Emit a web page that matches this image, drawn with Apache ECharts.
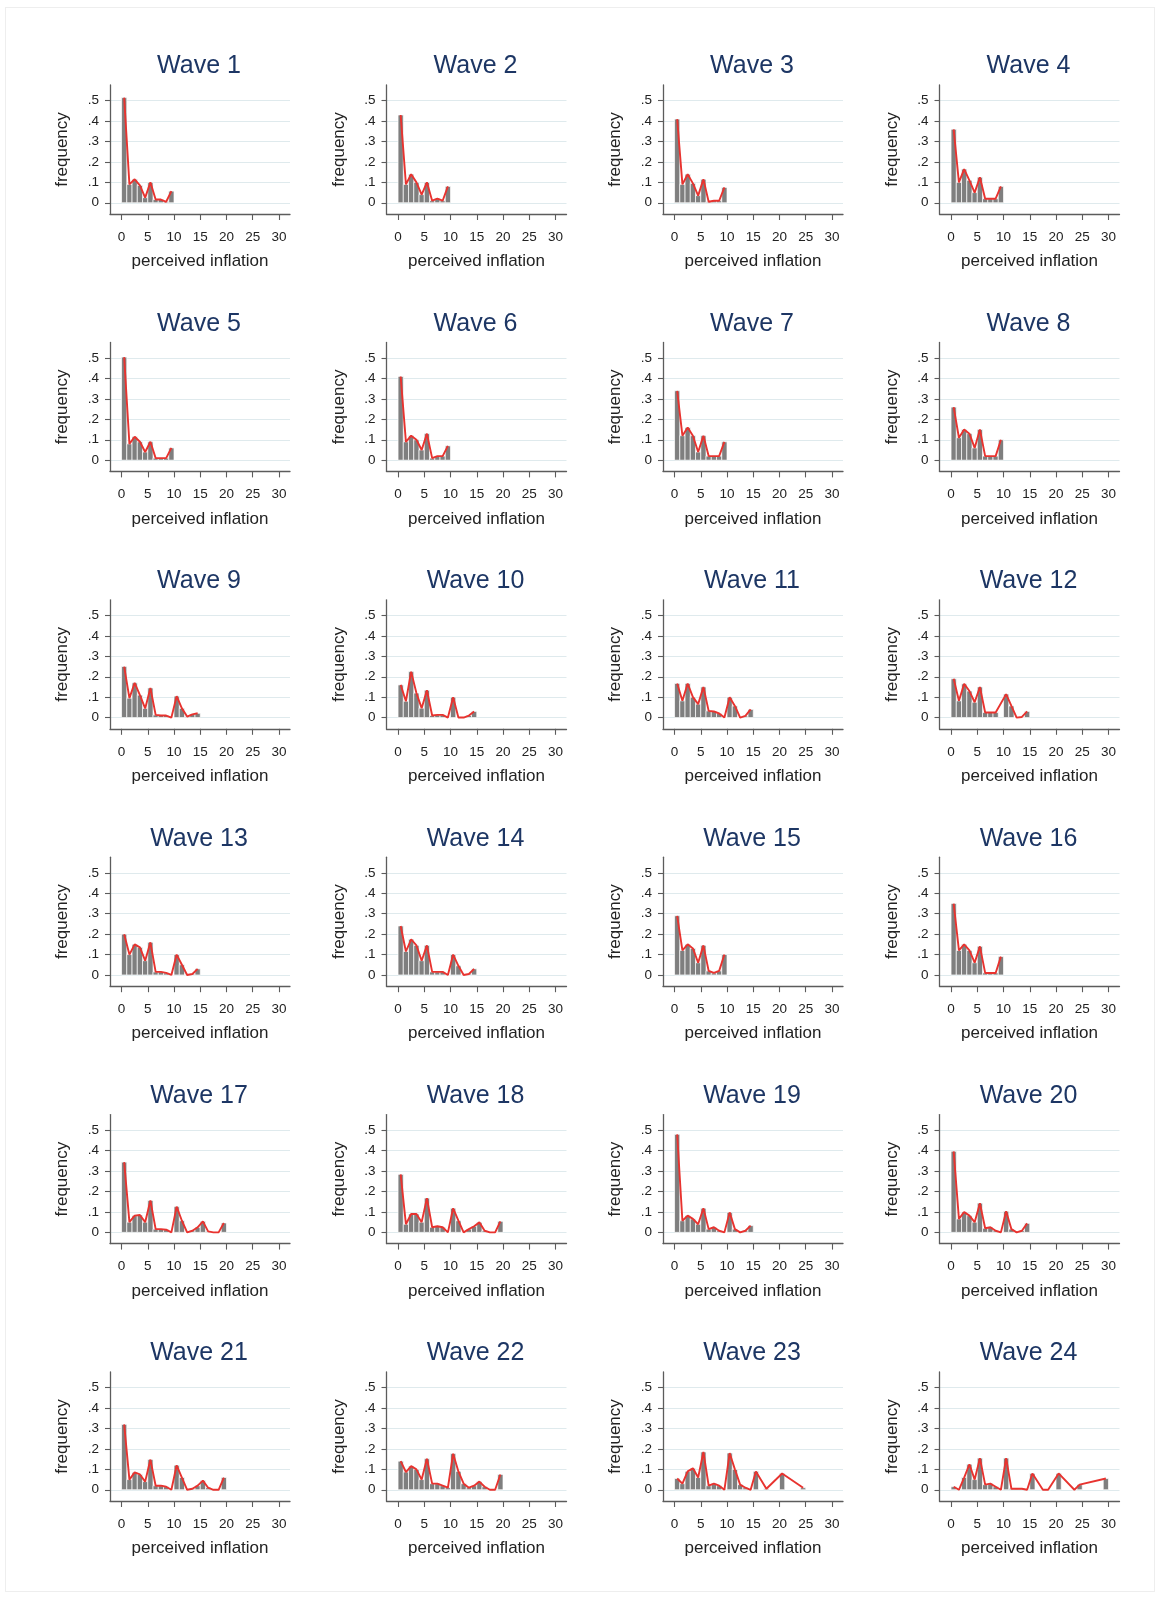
<!DOCTYPE html>
<html><head><meta charset="utf-8">
<script src="https://cdn.jsdelivr.net/npm/echarts@6/dist/echarts.min.js"></script>
<style>
html,body{margin:0;padding:0;background:#fff;}
#frame{position:absolute;left:5px;top:7px;width:1150px;height:1585px;border:1px solid #eeeeee;box-sizing:border-box;}
#chart{position:absolute;left:0;top:0;width:1161px;height:1598px;}
</style></head><body>
<div id="frame"></div><div id="chart"></div>
<script>
// ---- data (bins 0,1,2,...; null = empty bin) ----
const waveNames = ["Wave 1","Wave 2","Wave 3","Wave 4","Wave 5","Wave 6","Wave 7","Wave 8",
  "Wave 9","Wave 10","Wave 11","Wave 12","Wave 13","Wave 14","Wave 15","Wave 16",
  "Wave 17","Wave 18","Wave 19","Wave 20","Wave 21","Wave 22","Wave 23","Wave 24"];
const xTicks = [0,5,10,15,20,25,30];
const yTicks = [0,0.1,0.2,0.3,0.4,0.5];
const xTitle = "perceived inflation";
const yTitle = "frequency";

const w1 = [0.515,0.09,0.115,0.085,0.025,0.10,0.016,0.016,0.005,0.057];
const w2 = [0.43,0.09,0.14,0.10,0.04,0.10,0.01,0.02,0.01,0.08];
const w3 = [0.41,0.09,0.14,0.095,0.035,0.115,0.005,0.01,0.01,0.075];
const w4 = [0.36,0.10,0.165,0.11,0.05,0.125,0.02,0.02,0.02,0.08];
const w5 = [0.505,0.08,0.115,0.09,0.04,0.09,0.01,0.01,0.01,0.06];
const w6 = [0.41,0.09,0.12,0.10,0.05,0.13,0.01,0.02,0.02,0.07];
const w7 = [0.34,0.12,0.16,0.12,0.04,0.12,0.02,0.02,0.02,0.09];
const w8 = [0.26,0.11,0.15,0.13,0.06,0.15,0.02,0.02,0.02,0.10];
const w9 = [0.25,0.095,0.17,0.11,0.045,0.145,0.013,0.01,0.01,0.0,0.105,0.045,0.005,0.016,0.021];
const w10 = [0.16,0.08,0.225,0.12,0.046,0.134,0.01,0.013,0.013,0.0,0.10,0.0,0.0,0.01,0.03];
const w11 = [0.167,0.082,0.167,0.10,0.066,0.15,0.033,0.03,0.02,0.0,0.10,0.057,0.0,0.008,0.04];
const w12 = [0.19,0.082,0.165,0.13,0.075,0.15,0.025,0.025,0.025,null,0.115,0.057,0.0,0.003,0.03];
const w13 = [0.20,0.10,0.15,0.135,0.07,0.16,0.015,0.015,0.01,0.0,0.10,0.05,0.0,0.005,0.03];
const w14 = [0.24,0.115,0.175,0.145,0.07,0.145,0.015,0.015,0.015,0.0,0.10,0.045,0.0,0.005,0.03];
const w15 = [0.29,0.12,0.15,0.13,0.06,0.145,0.02,0.01,0.02,0.10];
const w16 = [0.35,0.12,0.15,0.12,0.06,0.14,0.01,0.01,0.01,0.09];
const w17 = [0.344,0.05,0.082,0.085,0.05,0.156,0.016,0.016,0.013,0.0,0.126,0.057,0.0,0.008,0.025,0.054,0.005,0.0,0.0,0.046];
const w18 = [0.284,0.04,0.09,0.09,0.05,0.168,0.025,0.03,0.025,0.0,0.118,0.057,0.0,0.016,0.03,0.049,0.008,0.0,0.0,0.054];
const w19 = [0.48,0.057,0.082,0.066,0.04,0.118,0.016,0.025,0.008,0.0,0.098,0.016,0.0,0.008,0.033];
const w20 = [0.397,0.066,0.10,0.082,0.05,0.143,0.02,0.025,0.008,0.0,0.103,0.016,0.0,0.008,0.044];
const w21 = [0.32,0.05,0.085,0.075,0.04,0.148,0.02,0.02,0.015,0.0,0.12,0.06,0.0,0.005,0.02,0.045,0.01,0.0,0.0,0.06];
const w22 = [0.14,0.087,0.116,0.10,0.05,0.152,0.03,0.03,0.02,0.01,0.177,0.09,0.03,0.01,0.02,0.04,0.015,0.0,0.0,0.075];
const w23 = [0.055,0.03,0.09,0.105,0.06,0.185,0.02,0.03,0.02,0.0,0.18,0.10,0.025,0.01,0.0,0.09,null,0.005,null,null,0.08,null,null,null,0.01];
const w24 = [0.015,0.0,0.06,0.125,0.05,0.155,0.025,0.03,0.015,0.0,0.155,0.005,0.005,0.005,0.0,0.08,null,0.0,0.0,null,0.08,null,null,0.0,0.025,null,null,null,null,0.055];
const waves = [w1,w2,w3,w4,w5,w6,w7,w8,w9,w10,w11,w12,w13,w14,w15,w16,w17,w18,w19,w20,w21,w22,w23,w24];

// ---- layout / style ----
const FONT = "'Liberation Sans', Arial, Helvetica, sans-serif";
const AXIS_COLOR = '#5c5c5c';
const TEXT_COLOR = '#222222';
const colX = [110, 386.5, 663, 939.5];
const rowTop0 = 85, rowStep = 257.4, gridW = 180, gridH = 129;

function barItem(params, api) {
  const x = api.value(0), v = api.value(1);
  const p0 = api.coord([x - 0.5, 0]);
  const p1 = api.coord([x + 0.5, v]);
  return {
    type: 'rect',
    shape: {x: p0[0], y: p1[1], width: p1[0] - p0[0], height: p0[1] - p1[1]},
    style: {fill: '#7f7f7f', stroke: '#ffffff', lineWidth: 0.7}
  };
}
function yFmt(v) {
  if (Math.abs(v) < 1e-9) return '0';
  return String(Math.round(v * 10) / 10).replace(/^0\./, '.');
}

const grids = [], xAxes = [], yAxes = [], series = [], titles = [];
waves.forEach((vals, i) => {
  const col = i % 4, row = Math.floor(i / 4);
  const left = colX[col], top = rowTop0 + rowStep * row;
  grids.push({left: left, top: top, width: gridW, height: gridH});
  titles.push({
    text: waveNames[i], left: left + gridW / 2 - 6, top: top - 36, textAlign: 'center',
    textStyle: {fontFamily: FONT, fontSize: 25, fontWeight: 'normal', color: '#1d3664'}
  });
  xAxes.push({
    type: 'value', gridIndex: i, min: -2.2, max: 32.1, position: 'bottom',
    name: xTitle, nameLocation: 'middle', nameGap: 39,
    nameTextStyle: {fontFamily: FONT, fontSize: 17, color: TEXT_COLOR},
    axisLine: {show: true, onZero: false, lineStyle: {color: AXIS_COLOR, width: 1.3}},
    axisTick: {show: true, length: 6, customValues: xTicks, lineStyle: {color: AXIS_COLOR, width: 1.1}},
    axisLabel: {customValues: xTicks, margin: 16, fontFamily: FONT, fontSize: 13.5, color: TEXT_COLOR},
    splitLine: {show: false}
  });
  yAxes.push({
    type: 'value', gridIndex: i, min: -0.055, max: 0.577, position: 'left',
    name: yTitle, nameLocation: 'middle', nameGap: 39, nameRotate: 90,
    nameTextStyle: {fontFamily: FONT, fontSize: 17, color: TEXT_COLOR},
    axisLine: {show: true, onZero: false, lineStyle: {color: AXIS_COLOR, width: 1.3}},
    axisTick: {show: true, length: 5, customValues: yTicks, lineStyle: {color: AXIS_COLOR, width: 1.1}},
    axisLabel: {customValues: yTicks, formatter: yFmt, margin: 11, fontFamily: FONT, fontSize: 13.5, color: TEXT_COLOR},
    splitLine: {show: true, lineStyle: {color: '#dfeaed', width: 1}}
  });
  const pts = [];
  vals.forEach((v, k) => { if (v !== null) pts.push([k + 0.5, v]); });
  series.push({type: 'custom', xAxisIndex: i, yAxisIndex: i, data: pts, renderItem: barItem, z: 2, silent: true});
  series.push({
    type: 'line', xAxisIndex: i, yAxisIndex: i, data: pts, showSymbol: false, symbol: 'none',
    lineStyle: {color: '#e8332f', width: 1.9}, z: 3, silent: true
  });
});

const chart = echarts.init(document.getElementById('chart'), null, {renderer: 'canvas'});
chart.setOption({
  animation: false,
  backgroundColor: 'transparent',
  title: titles, grid: grids, xAxis: xAxes, yAxis: yAxes, series: series
});
</script>
</body></html>
